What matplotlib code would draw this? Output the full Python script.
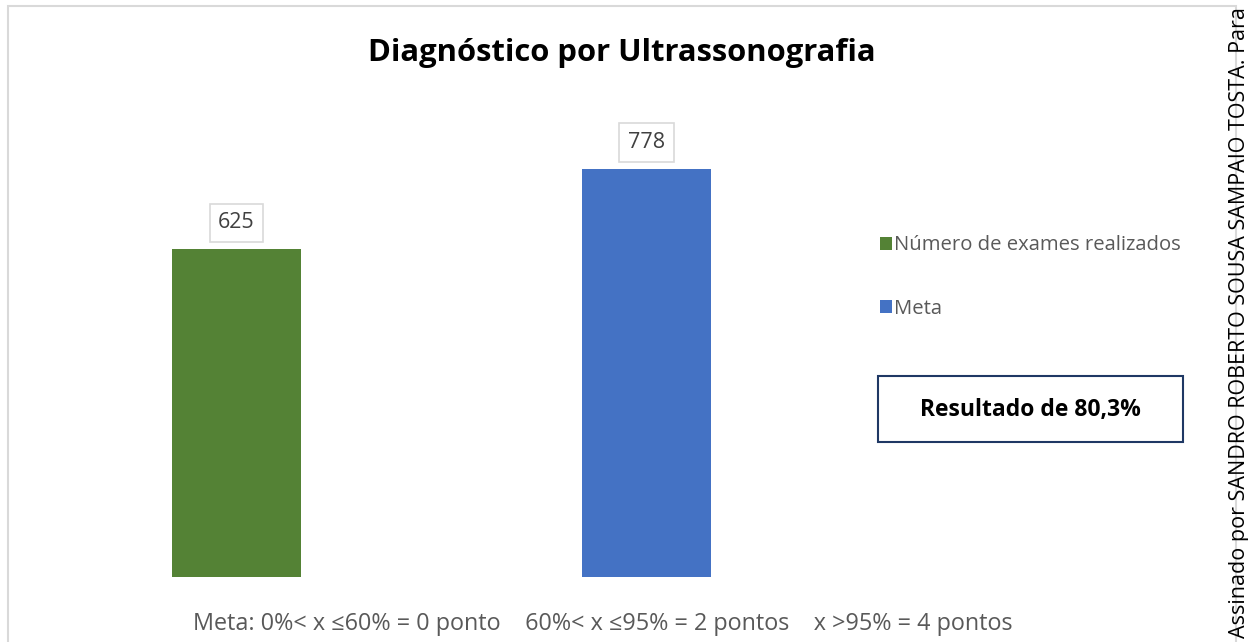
import matplotlib.pyplot as plt
from matplotlib.patches import Rectangle

# data
categorias = ['Número de exames realizados', 'Meta']
valores = [625, 778]
cores = ['#548235', '#4472C4']
titulo = 'Diagnóstico por Ultrassonografia'
resultado = 'Resultado de 80,3%'
rodape = 'Meta: 0%< x \u226460% = 0 ponto    60%< x \u226495% = 2 pontos    x >95% = 4 pontos'
assinatura = 'Assinado por SANDRO ROBERTO SOUSA SAMPAIO TOSTA. Para'

plt.rcParams['font.family'] = ['Open Sans', 'DejaVu Sans']

W, H = 1248, 642
fig = plt.figure(figsize=(W / 100, H / 100), dpi=100)

# moldura do grafico
fig.patches.append(Rectangle((8 / W, -0.1), (1228 / W), (H - 6) / H + 0.1,
                             transform=fig.transFigure, fill=False,
                             edgecolor='#D9D9D9', linewidth=1.5))

# axes placed so bars line up with the reference
ax = fig.add_axes([31.5 / W, (H - 577) / H, 820 / W, 472 / H])
ax.set_xlim(-0.5, 1.5)
ax.set_ylim(0, 900)
bars = ax.bar(range(len(valores)), valores, width=0.315, color=cores, label=categorias)
ax.axis('off')

for b, v in zip(bars, valores):
    ax.annotate(str(v), (b.get_x() + b.get_width() / 2, v), xytext=(0, 19),
                textcoords='offset points', ha='center', va='center',
                fontsize=15.5, color='#404040',
                bbox=dict(boxstyle='square,pad=0.4', fc='white', ec='#D9D9D9', lw=1.2))

fig.text(622 / W, 1 - 53 / H, titulo, ha='center', va='center',
         fontsize=22.3, fontweight='bold', color='black')

# legend
leg = fig.legend(handles=bars, labels=categorias, loc='upper left',
                 bbox_to_anchor=(862 / W, 1 - 217 / H), frameon=False,
                 fontsize=14.6, labelcolor='#595959', handlelength=0.6,
                 handleheight=0.6, handletextpad=0.1, labelspacing=2.15)

# caixa de resultado
fig.patches.append(Rectangle((878 / W, 1 - 442 / H), 305 / W, 66 / H,
                             transform=fig.transFigure, fill=False,
                             edgecolor='#1F3864', linewidth=1.5))
fig.text(1030 / W, 1 - 410 / H, resultado, ha='center', va='center',
         fontsize=16.5, fontweight='bold', color='black')

fig.text(603 / W, 1 - 624 / H, rodape, ha='center', va='center',
         fontsize=16.8, color='#595959')

fig.text(1239 / W, 1 - 638 / H, assinatura, ha='center', va='bottom',
         rotation=90, fontsize=15.5, color='black')

fig.savefig('out.png', dpi=100)
